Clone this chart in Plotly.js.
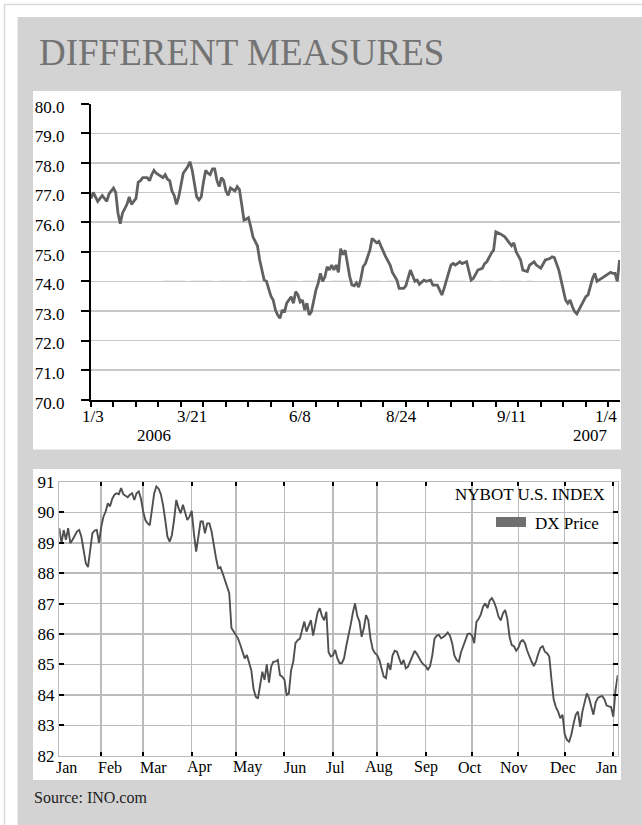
<!DOCTYPE html>
<html><head><meta charset="utf-8">
<script src="https://cdn.plot.ly/plotly-3.0.1.min.js"></script>
<style>html,body{margin:0;padding:0;background:#fff;}#chart{width:642px;height:825px;}</style>
</head><body><div id="chart"></div>
<script>
// ---------- DATA ----------
const titleText = 'DIFFERENT MEASURES';
// top chart: trading-day index and price
const topDays = [0,1,3,5,7,8,10,11,12,13,14,16,17,18,20,21,22,23,25,26,27,28,29,31,32,33,34,35,36,37,38,39,40,41,43,44,45,46,47,48,49,50,51,52,53,54,55,56,57,58,59,60,61,62,63,64,65,66,67,68,69,70,71,72,73,74,75,76,77,78,79,80,81,82,83,84,85,86,87,88,89,90,91,92,93,94,95,96,97,98,99,100,101,102,103,104,105,106,107,108,109,110,111,112,113,114,115,116,117,118,119,120,121,122,123,124,125,127,128,130,131,133,134,136,137,139,140,142,143,144,145,146,148,149,151,152,154,155,156,157,159,160,161,162,164,165,167,168,169,170,171,172,174,175,176,177,178,179,180,182,184,185,187,188,189,191,192,194,195,197,198,200,201,202,204,205,206,208,209,210,211,212,213,214,215,216,217,219,220,221,222,223,224,225,227,228,229,231,232,233,234,235];
const topPrices = [76.8,77.0,76.7,76.9,76.7,76.95,77.15,77.0,76.3,75.95,76.3,76.6,76.85,76.6,76.8,77.35,77.4,77.5,77.5,77.4,77.6,77.75,77.65,77.55,77.5,77.6,77.45,77.4,77.05,76.9,76.6,76.85,77.2,77.65,77.87,78.04,77.75,77.35,76.85,76.75,76.85,77.35,77.75,77.65,77.6,77.8,77.8,77.4,77.2,77.5,77.4,77.05,76.9,77.15,77.1,77.05,77.2,77.1,76.6,76.07,76.1,76.15,75.85,75.5,75.35,75.2,74.72,74.38,74.04,74.0,73.7,73.5,73.37,73.03,72.86,72.75,73.03,72.95,73.26,73.37,73.48,73.26,73.65,73.54,73.3,73.37,73.03,73.26,72.86,72.97,73.37,73.7,73.93,74.27,74.0,74.15,74.49,74.38,74.55,74.38,74.55,74.3,75.1,74.9,75.05,74.6,74.17,73.88,73.85,73.95,73.8,74.1,74.5,74.6,74.8,75.05,75.45,75.3,75.35,75.0,74.83,74.55,74.3,74.04,73.76,73.76,73.85,74.38,74.15,74.0,74.04,73.9,74.04,74.0,74.04,73.87,73.87,73.7,73.54,73.76,74.27,74.55,74.6,74.55,74.66,74.6,74.66,74.38,74.04,74.1,74.27,74.38,74.44,74.6,74.66,74.83,74.95,75.05,75.67,75.6,75.5,75.4,75.2,75.3,75.0,74.72,74.38,74.33,74.55,74.66,74.55,74.44,74.6,74.72,74.77,74.83,74.8,74.38,74.04,73.7,73.37,73.26,73.37,73.15,72.98,72.9,73.05,73.37,73.48,73.54,73.82,74.1,74.27,74.0,74.1,74.15,74.2,74.3,74.27,74.27,74.0,74.72];
const topLabelText = ['1/3','3/21','6/8','8/24','9/11','1/4'];
const topLabelDays = [1,45,93,138,187,229];
const topYearText = ['2006','2007'];
const topYearDays = [28,222];

// bottom chart: one price per trading day
const bottomPrices = [89.48,88.99,89.42,89.1,89.48,88.99,89.1,89.25,89.37,89.42,89.2,88.77,88.33,88.2,88.77,89.32,89.4,89.42,89.0,89.53,
89.86,90.03,90.3,90.2,90.45,90.58,90.63,90.6,90.8,90.6,90.55,90.5,90.58,90.63,90.41,90.63,90.69,90.45,90.03,89.75,
89.64,89.58,90.1,90.63,90.85,90.78,90.6,90.25,89.75,89.2,89.04,89.25,89.75,90.41,90.15,89.97,90.25,90.03,89.75,89.86,
90.05,89.3,88.71,89.2,89.7,89.7,89.31,89.64,89.64,89.37,88.9,88.5,88.16,88.2,88.0,87.8,87.58,87.34,86.2,86.08,
86.0,85.85,85.65,85.4,85.2,85.31,85.09,84.8,84.2,83.94,83.88,84.33,84.76,84.49,85.0,84.4,84.93,85.09,85.1,85.15,
84.65,84.6,84.5,84.0,84.05,84.8,85.09,85.7,85.8,85.85,86.1,86.41,86.08,86.3,86.46,85.95,86.4,86.7,86.85,86.6,
86.45,86.73,85.4,85.26,85.3,85.48,85.2,85.04,85.04,85.2,85.6,85.9,86.3,86.7,87.01,86.6,86.41,85.91,86.2,86.62,
86.45,85.85,85.5,85.37,85.31,85.15,84.85,84.6,84.55,85.05,84.82,85.3,85.45,85.42,85.2,85.0,85.15,84.87,84.93,85.1,
85.25,85.45,85.35,85.2,85.09,85.0,84.95,84.82,84.95,85.3,85.85,85.95,85.97,85.86,85.9,85.97,86.05,85.95,85.7,85.3,
85.15,85.09,85.4,85.6,85.78,86.0,86.02,85.95,85.7,86.4,86.5,86.65,86.9,87.01,86.85,87.1,87.18,87.05,86.85,86.57,
86.45,86.68,86.79,86.5,85.9,85.64,85.6,85.45,85.55,85.75,85.8,85.7,85.45,85.26,85.09,84.95,85.1,85.35,85.55,85.6,
85.42,85.37,85.26,84.5,83.85,83.6,83.45,83.23,83.35,82.7,82.52,82.46,82.7,83.05,83.35,83.45,82.95,83.45,83.8,84.05,
83.9,83.6,83.35,83.75,83.9,83.94,83.96,83.85,83.65,83.62,83.6,83.28,84.15,84.65];
const monthLabels = ['Jan','Feb','Mar','Apr','May','Jun','Jul','Aug','Sep','Oct','Nov','Dec','Jan'];
const monthStartDays = [0,19,38,60,80,102,124,144,166,187,208,229,251];
const legendTitle = 'NYBOT U.S. INDEX';
const seriesName = 'DX Price';
const sourceText = 'Source: INO.com';

// ---------- LAYOUT ----------
const W = 642, H = 825;
const px = x => x / W;
const py = y => 1 - y / H;
const F = '"Liberation Serif", "Times New Roman", serif';
const monthShift = [7,9,10,8,12,11,3,2,0,-2,-4,-2,-7];
const bottomDays = bottomPrices.map((_, i) => i);

const traces = [
  {x: topDays, y: topPrices, xaxis: 'x', yaxis: 'y', mode: 'lines',
   line: {color: '#616161', width: 2.8}, hoverinfo: 'skip'},
  {x: bottomDays, y: bottomPrices, xaxis: 'x2', yaxis: 'y2', mode: 'lines', name: seriesName,
   line: {color: '#505050', width: 1.9}, hoverinfo: 'skip'}
];

const annotations = [];
annotations.push({xref: 'paper', yref: 'paper', x: px(37), y: py(52.5), xanchor: 'left', yanchor: 'middle',
  text: titleText, showarrow: false, font: {family: F, size: 37, color: '#737373'}});
topLabelText.forEach((t, i) => annotations.push({xref: 'x', yref: 'paper', x: topLabelDays[i], y: py(416.5),
  xanchor: 'center', yanchor: 'middle', text: t, showarrow: false, font: {family: F, size: 17, color: '#000'}}));
topYearText.forEach((t, i) => annotations.push({xref: 'x', yref: 'paper', x: topYearDays[i], y: py(435.5),
  xanchor: 'center', yanchor: 'middle', text: t, showarrow: false, font: {family: F, size: 17, color: '#000'}}));
monthLabels.forEach((t, i) => annotations.push({xref: 'x2', yref: 'paper', x: monthStartDays[i], xshift: monthShift[i],
  y: py(767.3), xanchor: 'center', yanchor: 'middle', text: t, showarrow: false, font: {family: F, size: 16, color: '#000'}}));
annotations.push({xref: 'paper', yref: 'paper', x: px(607), y: py(494), xanchor: 'right', yanchor: 'middle',
  text: legendTitle, showarrow: false, font: {family: F, size: 17, color: '#000'}});
annotations.push({xref: 'paper', yref: 'paper', x: px(533), y: py(523), xanchor: 'left', yanchor: 'middle',
  text: seriesName, showarrow: false, font: {family: F, size: 17, color: '#000'}});
annotations.push({xref: 'paper', yref: 'paper', x: px(32), y: py(797), xanchor: 'left', yanchor: 'middle',
  text: sourceText, showarrow: false, font: {family: F, size: 16, color: '#222'}});

const shapes = [
  {type: 'rect', xref: 'paper', yref: 'paper', x0: px(4.5), y0: py(4.5), x1: px(700), y1: py(900),
   fillcolor: '#ffffff', line: {color: '#dadada', width: 1.5}, layer: 'below'},
  {type: 'rect', xref: 'paper', yref: 'paper', x0: px(17.5), y0: py(17), x1: px(700), y1: py(900),
   fillcolor: '#d3d3d3', line: {width: 0}, layer: 'below'},
  {type: 'rect', xref: 'paper', yref: 'paper', x0: px(33), y0: py(91), x1: px(621), y1: py(449.5),
   fillcolor: '#ffffff', line: {width: 0}, layer: 'below'},
  {type: 'rect', xref: 'paper', yref: 'paper', x0: px(33), y0: py(469), x1: px(621), y1: py(780),
   fillcolor: '#ffffff', line: {width: 0}, layer: 'below'},
  {type: 'line', xref: 'x', yref: 'y', x0: 32, x1: 196, y0: 76, y1: 76,
   line: {color: '#d9d9d9', width: 1.5, dash: '22px,6px'}, layer: 'below'},
  {type: 'line', xref: 'x', yref: 'y', x0: 32, x1: 196, y0: 74, y1: 74,
   line: {color: '#d9d9d9', width: 1.5, dash: '22px,6px'}, layer: 'below'},
  {type: 'rect', xref: 'paper', yref: 'paper', x0: px(496), y0: py(517), x1: px(526), y1: py(527),
   fillcolor: '#707070', line: {width: 0}, layer: 'above'}
];

const layout = {
  width: W, height: H, margin: {l: 0, r: 0, t: 0, b: 0},
  paper_bgcolor: '#ffffff', plot_bgcolor: 'rgba(0,0,0,0)', showlegend: false,
  font: {family: F, color: '#000', size: 17},
  xaxis: {domain: [px(91), px(620)], range: [0, 235.2], showline: true, linecolor: '#000', linewidth: 2,
    ticks: 'outside', ticklen: 5, tickwidth: 2, tickcolor: '#000', tick0: 0, dtick: 10,
    showticklabels: false, showgrid: false, zeroline: false, fixedrange: true},
  yaxis: {domain: [py(399.7), py(103.7)], range: [70, 80], showline: true, linecolor: '#000', linewidth: 2,
    ticks: 'outside', ticklen: 8, tickwidth: 2, tickcolor: '#000', tick0: 70, dtick: 1, tickformat: '.1f',
    showgrid: true, gridcolor: '#c8c8c8', gridwidth: 1.5, zeroline: false,
    ticklabelstandoff: 13, ticklabelshift: 3, tickfont: {family: F, size: 17, color: '#000'}, fixedrange: true},
  xaxis2: {anchor: 'y2', domain: [px(59.3), px(617.7)], range: [0, 253], tickvals: monthStartDays,
    showticklabels: false, ticks: 'inside', ticklen: 4, tickwidth: 2, tickcolor: '#000', mirror: 'ticks',
    showline: true, linecolor: '#bbbbbb', linewidth: 1.5, showgrid: true, gridcolor: '#bbbbbb', gridwidth: 1.5,
    zeroline: false, fixedrange: true},
  yaxis2: {anchor: 'x2', domain: [py(755.7), py(482)], range: [82, 91], tick0: 82, dtick: 1,
    ticks: 'inside', ticklen: 5, tickwidth: 2, tickcolor: '#000', mirror: 'ticks',
    showline: true, linecolor: '#bbbbbb', linewidth: 1.5, showgrid: true, gridcolor: '#bbbbbb', gridwidth: 1.5,
    zeroline: false, tickfont: {family: F, size: 17, color: '#000'}, fixedrange: true},
  shapes: shapes,
  annotations: annotations
};

Plotly.newPlot('chart', traces, layout, {staticPlot: true, displayModeBar: false});
</script>
</body></html>
